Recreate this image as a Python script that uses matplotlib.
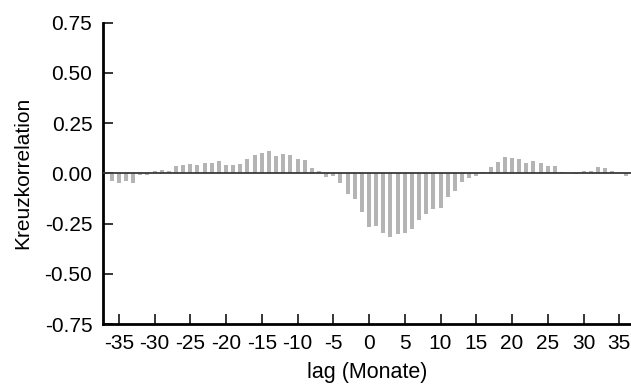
import numpy as np
import matplotlib.pyplot as plt

plt.rcParams['font.family'] = ['Liberation Sans', 'DejaVu Sans']

# lags in Monaten
lags = list(range(-36, 37))
# Kreuzkorrelation
werte = [
    -0.037, -0.05, -0.04, -0.05, -0.01, -0.01, 0.01, 0.018, 0.013, 0.035,
    0.04, 0.045, 0.04, 0.053, 0.053, 0.06, 0.04, 0.04, 0.045, 0.073,
    0.09, 0.103, 0.113, 0.088, 0.098, 0.093, 0.073, 0.068, 0.028, 0.013,
    -0.02, -0.015, -0.05, -0.105, -0.13, -0.19, -0.265, -0.26, -0.295, -0.315,
    -0.30, -0.295, -0.275, -0.23, -0.20, -0.175, -0.17, -0.12, -0.09, -0.045,
    -0.025, -0.015, 0.008, 0.033, 0.058, 0.083, 0.078, 0.073, 0.053, 0.063,
    0.053, 0.038, 0.038, 0.008, 0.002, -0.005, 0.013, 0.013, 0.033, 0.028,
    0.013, 0.002, -0.015,
]
xticks = list(range(-35, 36, 5))
yticks = [-0.75, -0.5, -0.25, 0.0, 0.25, 0.5, 0.75]

fig = plt.figure(figsize=(6.31, 3.85), dpi=100)
ax = fig.add_axes([0.164, 0.1584, 0.836, 0.7826])

ax.bar(lags, werte, width=0.56, color='#b4b4b4', zorder=2)
ax.axhline(0, color='#3a3a3a', lw=1.3, zorder=3)

ax.set_xlim(-37.14, 36.64)
ax.set_ylim(-0.75, 0.75)
ax.set_xticks(xticks)
ax.set_xticklabels([str(t) for t in xticks])
ax.set_yticks(yticks)
ax.set_yticklabels(['%.2f' % t for t in yticks])

for s in ['top', 'right']:
    ax.spines[s].set_visible(False)
for s in ['left', 'bottom']:
    ax.spines[s].set_linewidth(2.0)

ax.tick_params(axis='both', direction='in', length=7.5, width=1.1, labelsize=15)
ax.tick_params(axis='x', pad=7)
ax.tick_params(axis='y', pad=8)

ax.set_xlabel('lag (Monate)', fontsize=15.5, labelpad=7)
ax.set_ylabel('Kreuzkorrelation', fontsize=15, labelpad=9)

fig.savefig('out.png', dpi=100)
